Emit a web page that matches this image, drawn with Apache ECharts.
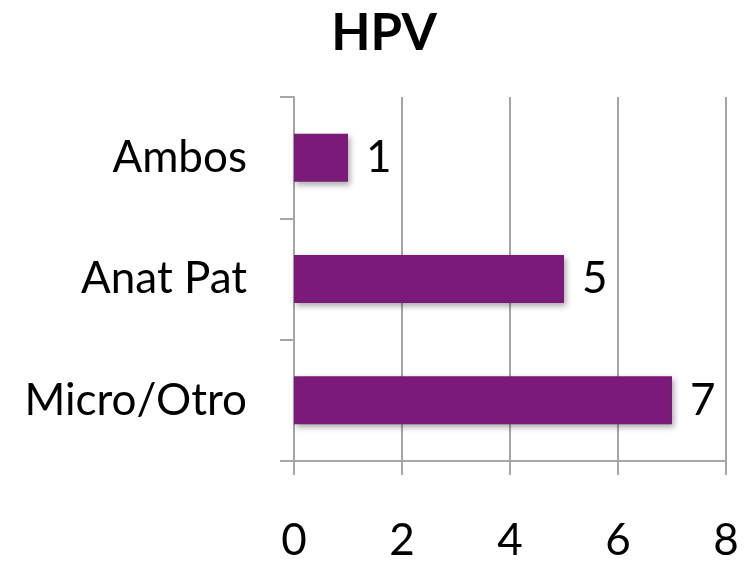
<!DOCTYPE html>
<html>
<head>
<meta charset="utf-8">
<script src="https://cdn.jsdelivr.net/npm/echarts@6/dist/echarts.min.js"></script>
<style>
  html, body { margin: 0; padding: 0; background: #fff; }
  #main { width: 749px; height: 563px; }
</style>
</head>
<body>
<div id="main"></div>
<script>
const categories = ['Ambos', 'Anat Pat', 'Micro/Otro'];
const counts = [1, 5, 7];
const xTicks = [0, 2, 4, 6, 8];

const FONT = 'Lato, "Open Sans", sans-serif';
const chart = echarts.init(document.getElementById('main'));

chart.setOption({
  animation: false,
  backgroundColor: '#fff',
  title: {
    text: 'HPV',
    left: 379,
    textAlign: 'center',
    top: 3,
    textStyle: { fontFamily: FONT, fontWeight: 'bold', fontSize: 51, color: '#000' }
  },
  grid: { left: 294, right: 23, top: 97, bottom: 100 },
  xAxis: {
    type: 'value',
    min: xTicks[0],
    max: xTicks[xTicks.length - 1],
    interval: 2,
    axisLine: { show: true, lineStyle: { color: '#a6a6a6', width: 2 } },
    axisTick: { show: true, length: 14, lineStyle: { color: '#a6a6a6', width: 2 } },
    splitLine: { show: true, lineStyle: { color: '#a6a6a6', width: 2 } },
    axisLabel: { fontFamily: FONT, fontSize: 44, color: '#000', margin: 58 }
  },
  yAxis: {
    type: 'category',
    data: categories,
    inverse: true,
    axisLine: { show: true, lineStyle: { color: '#a6a6a6', width: 2 } },
    axisTick: { show: true, length: 14, lineStyle: { color: '#a6a6a6', width: 2 } },
    axisLabel: { fontFamily: FONT, fontSize: 44, color: '#000', margin: 47, padding: [8, 0, 0, 0] }
  },
  series: [{
    type: 'bar',
    data: counts,
    barWidth: 48,
    itemStyle: {
      color: '#7b1a78',
      shadowColor: 'rgba(0,0,0,0.35)',
      shadowBlur: 6,
      shadowOffsetX: 2,
      shadowOffsetY: 3
    },
    label: {
      show: true,
      position: 'right',
      distance: 18,
      fontFamily: FONT,
      fontSize: 44,
      color: '#000',
      padding: [4, 0, 0, 0]
    }
  }]
});
</script>
</body>
</html>
